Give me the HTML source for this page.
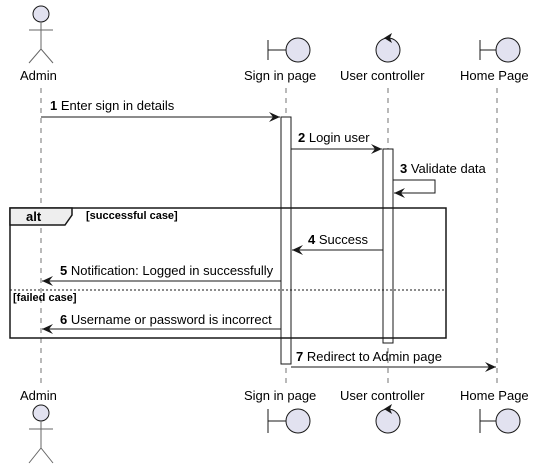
<!DOCTYPE html>
<html><head><style>body{margin:0;background:#fff}svg{display:block}text{font-family:"Liberation Sans",sans-serif;font-size:13px;fill:#000}.b{font-weight:bold}.s{font-size:11px;font-weight:bold}</style></head><body>
<svg width="538" height="467" viewBox="0 0 538 467">
<defs><marker id="a" markerWidth="12" markerHeight="10" refX="11" refY="5" orient="auto" markerUnits="userSpaceOnUse"><path d="M0,0 L11,5 L0,10 L4,5 Z" fill="#181818"/></marker></defs>
<g stroke="#181818" stroke-dasharray="5,5" stroke-width="0.6">
<line x1="41" y1="88" x2="41" y2="385"/><line x1="286" y1="88" x2="286" y2="385"/><line x1="388" y1="88" x2="388" y2="385"/><line x1="497" y1="88" x2="497" y2="385"/></g>
<g fill="#E2E2F0" stroke="#181818" stroke-width="1">
<circle cx="41" cy="14" r="8"/><path d="M41,22V49M29,30H53M29,63L41,49L53,63" fill="none" stroke="#666"/>
<circle cx="41" cy="413" r="8"/><path d="M41,421V448M29,429H53M29,463L41,448L53,463" fill="none" stroke="#666"/>
<path d="M268,40V60M268,50H286" fill="none"/><circle cx="298" cy="50" r="12"/>
<path d="M268,409V433M268,421H286" fill="none"/><circle cx="298" cy="421" r="12"/>
<circle cx="388" cy="50" r="12"/><circle cx="388" cy="421" r="12"/>
<path d="M480,40V60M480,50H496" fill="none"/><circle cx="508" cy="50" r="12"/>
<path d="M480,409V433M480,421H496" fill="none"/><circle cx="508" cy="421" r="12"/>
</g>
<path d="M384,38L392,33L390,38L392,43Z" fill="#181818"/><path d="M384,409L392,404L390,409L392,414Z" fill="#181818"/>
<text x="20" y="80">Admin</text><text x="244" y="80">Sign in page</text><text x="340" y="80">User controller</text><text x="460" y="80">Home Page</text>
<text x="20" y="400">Admin</text><text x="244" y="400">Sign in page</text><text x="340" y="400">User controller</text><text x="460" y="400">Home Page</text>
<rect x="281" y="117" width="10" height="247" fill="#fff" stroke="#181818"/>
<rect x="383" y="149" width="10" height="194" fill="#fff" stroke="#181818"/>
<rect x="10" y="208" width="436" height="130" fill="none" stroke="#181818" stroke-width="1.5"/>
<path d="M10,208H72V215L65,225H10Z" fill="#EEE" stroke="#181818" stroke-width="1.5"/>
<text x="26" y="221" class="b">alt</text><text x="86" y="219" class="s">[successful case]</text>
<line x1="10" y1="290" x2="446" y2="290" stroke="#181818" stroke-dasharray="2,2"/>
<text x="13" y="301" class="s">[failed case]</text>
<g stroke="#181818" stroke-width="1" marker-end="url(#a)" fill="none">
<line x1="41" y1="117" x2="280" y2="117"/>
<line x1="291" y1="149" x2="382" y2="149"/>
<path d="M393,180H435V193H394"/>
<line x1="383" y1="250" x2="292" y2="250"/>
<line x1="281" y1="281" x2="42" y2="281"/>
<line x1="281" y1="329" x2="42" y2="329"/>
<line x1="291" y1="367" x2="496" y2="367"/>
</g>
<text x="50" y="110"><tspan class="b">1</tspan> Enter sign in details</text>
<text x="298" y="142"><tspan class="b">2</tspan> Login user</text>
<text x="400" y="173"><tspan class="b">3</tspan> Validate data</text>
<text x="308" y="244"><tspan class="b">4</tspan> Success</text>
<text x="60" y="275"><tspan class="b">5</tspan> Notification: Logged in successfully</text>
<text x="60" y="324"><tspan class="b">6</tspan> Username or password is incorrect</text>
<text x="296" y="361"><tspan class="b">7</tspan> Redirect to Admin page</text>
</svg></body></html>
